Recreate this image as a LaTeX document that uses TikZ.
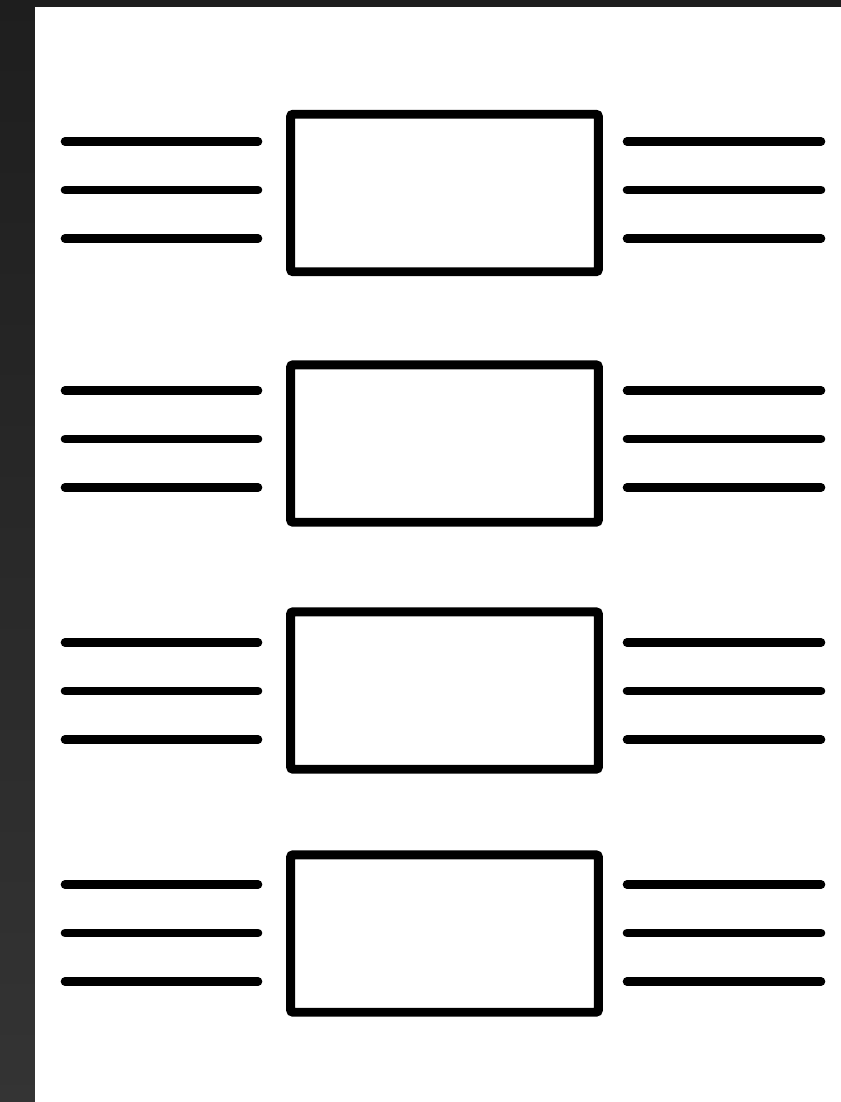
\documentclass[tikz,border=0pt]{standalone}
\usepackage{tikz}
\definecolor{frametop}{HTML}{1E1E1E}
\definecolor{framebot}{HTML}{343434}
\tikzset{
  rowbox/.style={draw=black, fill=white, line width=5.1pt, rounded corners=1.5pt,
                 minimum width=6.16cm, minimum height=3.15cm, inner sep=0pt},
  ruleline/.style={draw=black, line width=4.9pt, line cap=round}
}
\begin{document}
\begin{tikzpicture}[x=0.02cm, y=-0.02cm]
  % ------------------ background: dark frame + white sheet ------------------
  \useasboundingbox (0,0) rectangle (840,1102);
  \shade[top color=frametop, bottom color=framebot] (-5,-5) rectangle (35,1110);
  \fill[frametop] (30,-5) rectangle (850,7);
  \fill[white] (35,7) rectangle (850,1110);

  % ------------------ rows: box with three rules on each side ------------------
  \foreach \n/\by/\ly in {1/193/190, 2/443.5/439, 3/690.5/691, 4/933.5/933}{
    \node[rowbox] (box\n) at (444.5,\by) {};
    \foreach \d in {-48.5,0,48.5}{
      \draw[ruleline] (65,\ly+\d) -- (258,\ly+\d);
      \draw[ruleline] (627,\ly+\d) -- (821,\ly+\d);
    }
  }
\end{tikzpicture}
\end{document}
